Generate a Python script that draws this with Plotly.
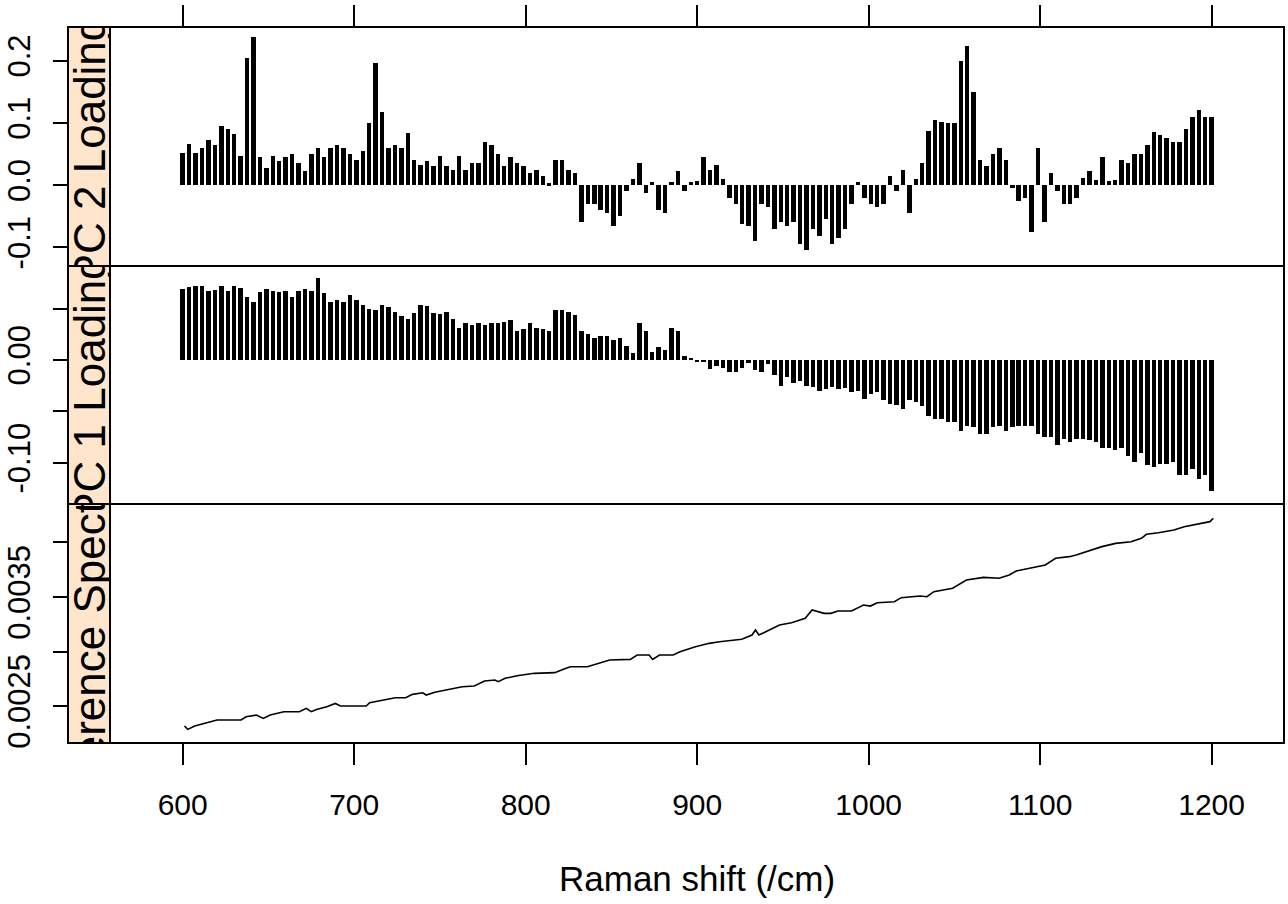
import numpy as np
import plotly.graph_objects as go

# Raman shift grid (cm^-1) for the loading bars
shift = np.arange(600, 1200.01, 3.75)

pc2_loading = [
    0.051, 0.066, 0.052, 0.060, 0.073, 0.065, 0.095, 0.090, 0.082, 0.046,
    0.205, 0.238, 0.045, 0.028, 0.046, 0.038, 0.045, 0.050, 0.035, 0.022,
    0.050, 0.060, 0.045, 0.060, 0.065, 0.060, 0.050, 0.040, 0.055, 0.100,
    0.196, 0.118, 0.060, 0.065, 0.060, 0.083, 0.040, 0.033, 0.038, 0.030,
    0.047, 0.030, 0.025, 0.047, 0.025, 0.035, 0.035, 0.070, 0.065, 0.050,
    0.030, 0.045, 0.035, 0.030, 0.020, 0.025, 0.015, 0.003, 0.040, 0.040,
    0.025, 0.020, -0.060, -0.030, -0.030, -0.040, -0.045, -0.065, -0.050, -0.010,
    0.010, 0.035, -0.012, 0.005, -0.040, -0.045, 0.005, 0.022, -0.010, 0.005,
    0.007, 0.045, 0.025, 0.033, 0.010, -0.020, -0.030, -0.063, -0.065, -0.090,
    -0.030, -0.035, -0.070, -0.060, -0.065, -0.060, -0.095, -0.105, -0.070, -0.082,
    -0.055, -0.095, -0.085, -0.070, -0.030, 0.005, -0.020, -0.030, -0.035, -0.030,
    0.015, -0.010, 0.025, -0.045, 0.010, 0.035, 0.087, 0.104, 0.102, 0.100,
    0.100, 0.200, 0.223, 0.150, 0.040, 0.030, 0.050, 0.060, 0.040, -0.005,
    -0.025, -0.020, -0.075, 0.060, -0.060, 0.020, -0.010, -0.030, -0.030, -0.020,
    0.012, 0.022, 0.008, 0.045, 0.006, 0.008, 0.040, 0.035, 0.050, 0.050,
    0.065, 0.085, 0.080, 0.075, 0.070, 0.070, 0.090, 0.110, 0.120, 0.110,
    0.110,
]

pc1_loading = [
    0.069, 0.071, 0.072, 0.072, 0.067, 0.068, 0.072, 0.067, 0.072, 0.070,
    0.061, 0.056, 0.066, 0.069, 0.067, 0.066, 0.067, 0.061, 0.067, 0.069,
    0.067, 0.080, 0.065, 0.056, 0.058, 0.056, 0.063, 0.058, 0.053, 0.050,
    0.049, 0.053, 0.051, 0.047, 0.043, 0.040, 0.046, 0.053, 0.052, 0.046,
    0.045, 0.047, 0.040, 0.031, 0.036, 0.034, 0.036, 0.034, 0.036, 0.036,
    0.037, 0.039, 0.028, 0.030, 0.036, 0.031, 0.030, 0.028, 0.049, 0.049,
    0.047, 0.044, 0.028, 0.025, 0.021, 0.023, 0.023, 0.019, 0.021, 0.014,
    0.007, 0.036, 0.028, 0.008, 0.013, 0.010, 0.031, 0.028, 0.004, 0.002,
    -0.002, -0.002, -0.009, -0.006, -0.008, -0.012, -0.012, -0.008, -0.003, -0.010,
    -0.012, -0.004, -0.015, -0.025, -0.017, -0.022, -0.020, -0.025, -0.026, -0.030,
    -0.028, -0.026, -0.028, -0.027, -0.031, -0.030, -0.038, -0.033, -0.031, -0.039,
    -0.043, -0.044, -0.048, -0.039, -0.041, -0.045, -0.054, -0.057, -0.057, -0.060,
    -0.060, -0.069, -0.064, -0.065, -0.072, -0.072, -0.065, -0.064, -0.069, -0.065,
    -0.064, -0.064, -0.064, -0.072, -0.075, -0.075, -0.083, -0.077, -0.080, -0.077,
    -0.077, -0.078, -0.080, -0.086, -0.086, -0.088, -0.086, -0.093, -0.099, -0.090,
    -0.102, -0.104, -0.101, -0.101, -0.099, -0.112, -0.112, -0.106, -0.116, -0.112,
    -0.127,
]

# Reference spectrum
ref_shift = [
    601, 603, 607, 613, 620, 634, 637, 643, 647, 651, 659, 668, 672, 675, 678,
    684, 689, 692, 707, 709, 718, 724, 730, 734, 740, 742, 747, 755, 763, 770,
    776, 782, 784, 788, 795, 805, 817, 822, 826, 836, 842, 849, 861, 865, 872,
    874, 878, 886, 890, 899, 907, 913, 926, 932, 934, 936, 940, 948, 955, 963,
    967, 974, 978, 982, 990, 997, 1001, 1005, 1015, 1019, 1030, 1034, 1038, 1049,
    1057, 1067, 1076, 1082, 1086, 1097, 1103, 1109, 1117, 1121, 1130, 1136, 1144,
    1153, 1159, 1162, 1169, 1178, 1184, 1192, 1199, 1201,
]
ref_intensity = [
    0.002317, 0.002286, 0.002317, 0.002341, 0.002372, 0.002372, 0.002402, 0.002417,
    0.002387, 0.002417, 0.002448, 0.002448, 0.002479, 0.002448, 0.002469, 0.002494,
    0.002524, 0.002500, 0.002500, 0.002530, 0.002555, 0.002576, 0.002576, 0.002607,
    0.002622, 0.002601, 0.002626, 0.002653, 0.002677, 0.002683, 0.002729, 0.002739,
    0.002723, 0.002754, 0.002778, 0.002800, 0.002806, 0.002837, 0.002861, 0.002861,
    0.002892, 0.002922, 0.002928, 0.002968, 0.002968, 0.002928, 0.002968, 0.002968,
    0.002998, 0.003044, 0.003075, 0.003090, 0.003112, 0.003151, 0.003197, 0.003151,
    0.003182, 0.003243, 0.003264, 0.003305, 0.003381, 0.003350, 0.003350, 0.003372,
    0.003372, 0.003427, 0.003417, 0.003448, 0.003457, 0.003494, 0.003509, 0.003503,
    0.003549, 0.003580, 0.003656, 0.003680, 0.003672, 0.003702, 0.003739, 0.003778,
    0.003794, 0.003855, 0.003870, 0.003886, 0.003931, 0.003962, 0.003992, 0.004007,
    0.004038, 0.004075, 0.004090, 0.004115, 0.004145, 0.004170, 0.004191, 0.004222,
]

strip_labels = ["PC 2 Loading", "PC 1 Loading", "Reference Spectrum"]
x_ticks = [600, 700, 800, 900, 1000, 1100, 1200]

W, H = 1288, 904
STRIP_BG = "#FFE5CC"
FONT = "Liberation Sans, Arial, sans-serif"


def px_x(v):
    return v / W


def px_y(v):
    return 1 - v / H


strip_left, panel_left, panel_right = 68, 110, 1284
rows = [(27, 266), (266, 504), (504, 743)]   # pixel top/bottom for each panel
y_domains = [[px_y(b), px_y(t)] for t, b in rows]
x_domain = [px_x(panel_left), px_x(panel_right)]
strip_domain = [px_x(strip_left), px_x(panel_left)]
x_range = [557.6, 1242.2]

fig = go.Figure()

fig.add_trace(go.Bar(x=shift, y=pc2_loading, width=2.6, marker=dict(color="black", line=dict(width=0)),
                     xaxis="x", yaxis="y", showlegend=False))
fig.add_trace(go.Bar(x=shift, y=pc1_loading, width=2.6, marker=dict(color="black", line=dict(width=0)),
                     xaxis="x2", yaxis="y2", showlegend=False))
fig.add_trace(go.Scatter(x=ref_shift, y=ref_intensity, mode="lines",
                         line=dict(color="black", width=1.6),
                         xaxis="x3", yaxis="y3", showlegend=False))

# Strip labels on the left, clipped to the strip box (bar runs a little past the
# bottom so the label sits slightly below the strip centre)
for k, lab in enumerate(strip_labels):
    fig.add_trace(go.Bar(
        x=[0.5], y=[1.03], width=[1], base=-0.03,
        marker=dict(color="rgba(0,0,0,0)", line=dict(width=0)),
        text=[lab], textposition="inside", insidetextanchor="middle",
        textangle=-90, constraintext="none", cliponaxis=True,
        textfont=dict(family=FONT, size=44, color="black"),
        xaxis=f"x{4 + k}", yaxis=f"y{4 + k}", showlegend=False, hoverinfo="skip",
    ))

common_x = dict(domain=x_domain, range=x_range, showgrid=False, zeroline=False,
                showline=False, tickvals=x_ticks, tickcolor="black", tickwidth=1.5,
                automargin=False)

yfont = dict(family=FONT, size=31, color="black")
common_y = dict(anchor="free", position=px_x(strip_left), side="left", showgrid=False,
                zeroline=False, showline=False, ticks="outside", ticklen=15,
                tickwidth=1.5, tickcolor="black", tickangle=-90, tickfont=yfont,
                ticklabelstandoff=11, automargin=False)

layout = dict(
    width=W, height=H, margin=dict(l=0, r=0, t=0, b=0, autoexpand=False),
    paper_bgcolor="white", plot_bgcolor="rgba(0,0,0,0)", bargap=0,
    xaxis=dict(common_x, anchor="y", side="top", ticks="outside", ticklen=21,
               showticklabels=False),
    xaxis2=dict(common_x, anchor="y2", ticks="", showticklabels=False),
    xaxis3=dict(common_x, anchor="y3", side="bottom", ticks="outside", ticklen=21,
                tickfont=dict(family=FONT, size=30, color="black"),
                ticklabelstandoff=14),
    yaxis=dict(common_y, domain=y_domains[0], range=[-0.130, 0.254],
               tickvals=[-0.1, 0.0, 0.1, 0.2], ticktext=["-0.1", "0.0", "0.1", "0.2"]),
    yaxis2=dict(common_y, domain=y_domains[1], range=[-0.140, 0.0913],
                tickvals=[-0.10, -0.05, 0.0, 0.05], ticktext=["-0.10", "", "0.00", ""]),
    yaxis3=dict(common_y, domain=y_domains[2], range=[0.002161, 0.004353],
                tickvals=[0.0025, 0.0030, 0.0035, 0.0040],
                ticktext=["0.0025", "", "0.0035", ""]),
)
for k in range(3):
    layout[f"xaxis{4 + k}"] = dict(domain=strip_domain, range=[0, 1], visible=False,
                                   anchor=f"y{4 + k}", fixedrange=True, automargin=False)
    layout[f"yaxis{4 + k}"] = dict(domain=y_domains[k], range=[0, 1], visible=False,
                                   anchor=f"x{4 + k}", fixedrange=True, automargin=False)
fig.update_layout(**layout)

# Strip fills plus panel and strip borders
shapes = []
for t, b in rows:
    shapes.append(dict(type="rect", xref="paper", yref="paper",
                       x0=px_x(strip_left), x1=px_x(panel_left), y0=px_y(b), y1=px_y(t),
                       fillcolor=STRIP_BG, line=dict(width=0), layer="below"))
for t, b in rows:
    for x0, x1 in [(strip_left, panel_left), (panel_left, panel_right)]:
        shapes.append(dict(type="rect", xref="paper", yref="paper",
                           x0=px_x(x0), x1=px_x(x1), y0=px_y(b), y1=px_y(t),
                           line=dict(color="black", width=2), layer="above"))
fig.update_layout(shapes=shapes)

fig.add_annotation(text="Raman shift (/cm)", xref="paper", yref="paper",
                   x=px_x(697), y=px_y(878), yanchor="middle", showarrow=False,
                   font=dict(family=FONT, size=35, color="black"))

fig.write_html("out.html")
